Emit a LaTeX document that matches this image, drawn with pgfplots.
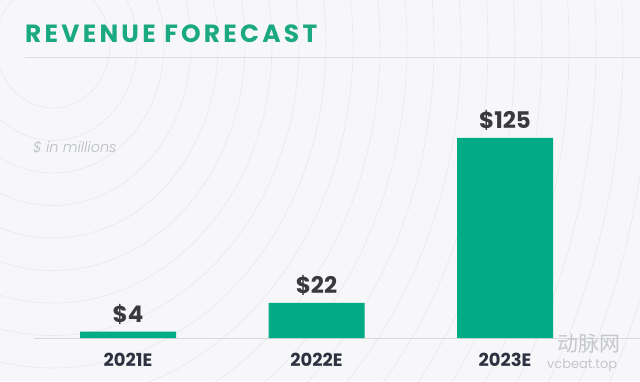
\documentclass[border=0pt]{standalone}
\usepackage{fontspec}
\setmainfont{Poppins}
\newfontfamily\poplight{Poppins Light Italic}
\newfontfamily\cjk{Noto Sans CJK SC}
\usepackage{pgfplots}
\pgfplotsset{compat=1.18}
\definecolor{bg}{HTML}{F7F7F9}
\definecolor{ring}{HTML}{E8E9ED}
\definecolor{barg}{HTML}{00AB86}
\definecolor{titleg}{HTML}{1AA981}
\definecolor{dark}{HTML}{2E3140}
\definecolor{vdark}{HTML}{3A3A3C}
\definecolor{sub}{HTML}{B9BDC6}
\definecolor{wm}{HTML}{C4C7CD}
\begin{document}
\begin{tikzpicture}
\begin{scope}[x=1bp,y=1bp]
\path[use as bounding box] (0,0) rectangle (640,381);
\fill[bg] (0,0) rectangle (640,381);
\begin{scope}
\clip (0,0) rectangle (640,381);
\foreach \n in {0,...,26}{
  \draw[ring, line width=0.6bp] (53,336) ellipse [x radius={57+27*\n}, y radius={63+32.5*\n}];
}
\end{scope}
\draw[gray!25, line width=0.8bp] (25,324) -- (640,324);
\draw[gray!30, line width=0.8bp] (33.75,43) -- (640,43);
\node[anchor=base west, inner sep=0, text=titleg, font=\fontsize{25}{25}\bfseries\addfontfeatures{LetterSpace=13}] at (25,339) {REVENUE FORECAST};
\node[anchor=base west, inner sep=0, text=sub, font=\fontsize{14.5}{14.5}\poplight] at (33,229) {\$ in millions};
\end{scope}
\begin{axis}[
  at={(33.75bp,43bp)}, anchor=south west,
  scale only axis, width=565.5bp, height=200bp,
  xmin=-0.5, xmax=2.5, ymin=0, ymax=125,
  clip=false,
  axis x line=bottom, axis y line=none,
  x axis line style={-, draw=gray!30, line width=0.8bp},
  xtick=data, xticklabels={2021E,2022E,2023E},
  major tick length=0pt,
  xticklabel style={anchor=base, yshift=-28bp, text=dark, font=\fontsize{18}{18}\bfseries},
  ybar, bar width=96bp, bar shift=0pt,
  point meta=explicit symbolic,
  nodes near coords,
  every node near coord/.append style={anchor=base, yshift=9bp, text=vdark, font=\fontsize{23}{23}\bfseries, inner sep=0},
]
\addplot[fill=barg, draw=none] coordinates {(0,4) [\$4] (1,22) [\$22] (2,125) [\$125]};
\end{axis}
\begin{scope}[x=1bp,y=1bp]
\node[anchor=base west, inner sep=0, text=wm, font=\fontsize{21}{21}\cjk] at (557,30) {动脉网};
\node[anchor=base west, inner sep=0, text=wm, font=\fontsize{13}{13}\selectfont] at (547,13) {vcbeat.top};
\end{scope}
\end{tikzpicture}
\end{document}
